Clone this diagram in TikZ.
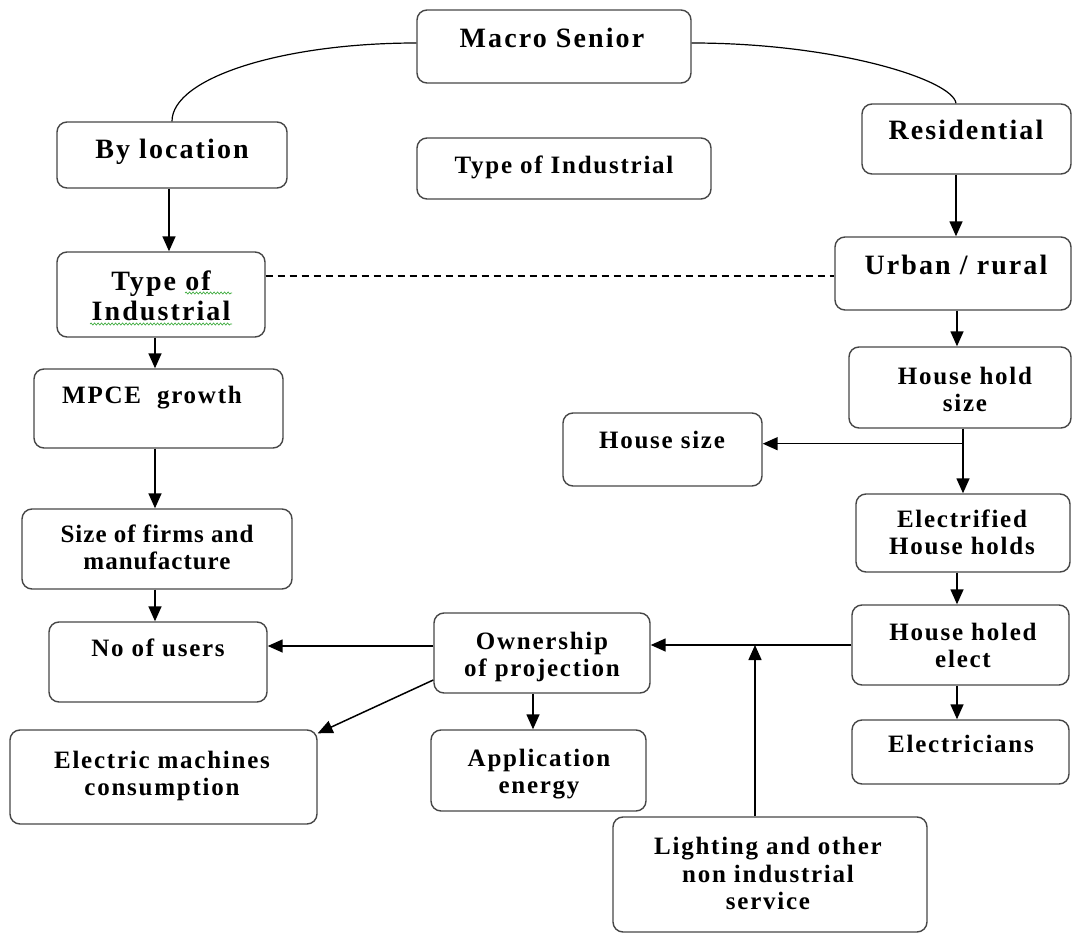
\documentclass[tikz,border=0pt]{standalone}
\usepackage{fontspec}
\setmainfont{Liberation Serif}
\newfontfamily\bigf[LetterSpace=7.5]{Liberation Serif}
\newfontfamily\medf[LetterSpace=7]{Liberation Serif}
\newfontfamily\smlf[LetterSpace=4]{Liberation Serif}
\usetikzlibrary{arrows.meta,decorations.pathmorphing,calc}
\definecolor{boxgray}{RGB}{70,70,70}
\definecolor{spell}{RGB}{60,170,60}
\begin{document}
\begin{tikzpicture}[x=1pt,y=-1pt,
  box/.style={draw=boxgray,line width=1.4pt,rounded corners=10pt,inner sep=0pt},
  tbig/.style={anchor=north,inner sep=0pt,align=center,font=\bigf\bfseries\fontsize{28}{30}\selectfont},
  tmed/.style={anchor=north,inner sep=0pt,align=center,font=\medf\bfseries\fontsize{25}{26.5}\selectfont},
  tsml/.style={anchor=north,inner sep=0pt,align=center,font=\smlf\bfseries\fontsize{25}{27}\selectfont},
  con/.style={line width=1.5pt,black},
  arr/.style={con,-{Triangle[length=15pt,width=13pt]}},
  dashline/.style={line width=1.3pt,black,dash pattern=on 7pt off 5pt},
  squig/.style={spell,line width=0.7pt,decorate,decoration={snake,amplitude=1pt,segment length=3.5pt}}]
\useasboundingbox (0,0) rectangle (1072,934);

% boxes
\node[box,minimum width=274pt,minimum height=73pt] (macro) at (554,46.5) {};
\node[box,minimum width=294pt,minimum height=61pt] (toim) at (564,168.5) {};
\node[box,minimum width=230pt,minimum height=66pt] (byloc) at (172,155) {};
\node[box,minimum width=208pt,minimum height=85pt] (toil) at (161,294.5) {};
\node[box,minimum width=249pt,minimum height=79pt] (mpce) at (158.5,408.5) {};
\node[box,minimum width=270pt,minimum height=80pt] (size) at (157,549) {};
\node[box,minimum width=218pt,minimum height=80pt] (users) at (158,662) {};
\node[box,minimum width=307pt,minimum height=94pt] (elec) at (163.5,777) {};
\node[box,minimum width=199pt,minimum height=73pt] (hsize) at (662.5,449.5) {};
\node[box,minimum width=216pt,minimum height=80pt] (own) at (542,653) {};
\node[box,minimum width=215pt,minimum height=81pt] (app) at (538.5,770.5) {};
\node[box,minimum width=314pt,minimum height=115pt] (light) at (770,874.5) {};
\node[box,minimum width=209pt,minimum height=70pt] (res) at (966.5,139) {};
\node[box,minimum width=236pt,minimum height=73pt] (urban) at (953,273.5) {};
\node[box,minimum width=222pt,minimum height=81pt] (hhs) at (960,387.5) {};
\node[box,minimum width=214pt,minimum height=78pt] (elecd) at (963,533) {};
\node[box,minimum width=217pt,minimum height=80pt] (hhe) at (960.5,645) {};
\node[box,minimum width=217pt,minimum height=64pt] (elecns) at (960.5,752) {};

% texts
\node[tbig] (t-macro) at (552,28) {Macro Senior};
\node[tmed] (t-toim) at (564,156) {Type of Industrial};
\node[tbig] (t-byloc) at (172,139) {By location};
\node[tbig] (t-toil) at (161,271) {Type of\\Industrial};
\node[tmed] (t-mpce) at (152,386) {MPCE\ \ growth};
\node[tsml] (t-size) at (157,525) {Size of firms and\\manufacture};
\node[tmed] (t-users) at (158,639) {No of users};
\node[tmed] (t-elec) at (162,751) {Electric machines\\consumption};
\node[tmed] (t-hsize) at (662,431) {House size};
\node[tmed] (t-own) at (542,632) {Ownership\\of projection};
\node[tmed] (t-app) at (539,749) {Application\\energy};
\node[tmed,font=\medf\bfseries\fontsize{25}{27.5}\selectfont] (t-light) at (768,837) {Lighting and other\\non industrial\\service};
\node[tbig] (t-res) at (966,120) {Residential};
\node[tbig] (t-urban) at (956,255) {Urban / rural};
\node[tmed] (t-hhs) at (965,367) {House hold\\size};
\node[tmed] (t-elecd) at (962,510) {Electrified\\House holds};
\node[tmed] (t-hhe) at (963,623) {House holed\\elect};
\node[tmed] (t-elecns) at (961,735) {Electricians};

% spell-check underlines
\draw[squig] (185,293) -- (232,293);
\draw[squig] (90,324) -- (232,324);

% curves from Macro Senior
\draw[con,line width=1.2pt] ([yshift=3.5pt]macro.west) .. controls (282,43) and (172,78) .. (byloc.north);
\draw[con,line width=1.2pt] ([yshift=3.5pt]macro.east) .. controls (837,43) and (953,80) .. ([xshift=-10.5pt]res.north);

% left column
\draw[arr] ($(byloc.south)+(-3,0)$) -- ($(toil.north)+(8,0)$);
\draw[arr] ($(toil.south)+(-6,0)$) -- ($(mpce.north)+(-3.5,0)$);
\draw[arr] ($(mpce.south)+(-3.5,0)$) -- ($(size.north)+(-2,0)$);
\draw[arr] ($(size.south)+(-2,0)$) -- ($(users.north)+(-3,0)$);

% dashed link
\coordinate (dl) at ($(toil.east)+(0,-18.5)$);
\draw[dashline] (dl) -- (dl -| urban.west);

% right column
\draw[arr] ($(res.south)+(-10.5,0)$) -- ($(urban.north)+(3,0)$);
\draw[arr] ($(urban.south)+(4,0)$) -- ($(hhs.north)+(-3,0)$);
\draw[arr] ($(hhs.south)+(3,0)$) -- (elecd.north);
\coordinate (br) at ($(hhs.south)+(3,15)$);
\draw[arr] (br) -- (br -| hsize.east);
\draw[arr] ($(elecd.south)+(-6,0)$) -- ($(hhe.north)+(-3.5,0)$);
\draw[arr] ($(hhe.south)+(-3.5,0)$) -- ($(elecns.north)+(-3.5,0)$);

% bottom row
\draw[arr] (hhe.west) -- (hhe.west -| own.east);
\coordinate (lt) at ($(light.north)+(-15,0)$);
\draw[arr] (lt) -- (lt |- hhe.west);
\coordinate (ow) at ($(own.west)+(0,-7)$);
\draw[arr] (ow) -- (ow -| users.east);
\draw[arr] ($(own.west)+(0,27)$) -- ($(elec.north east)+(0,4)$);
\draw[arr] ($(own.south)+(-9,0)$) -- ($(app.north)+(-5.5,0)$);
\end{tikzpicture}
\end{document}
